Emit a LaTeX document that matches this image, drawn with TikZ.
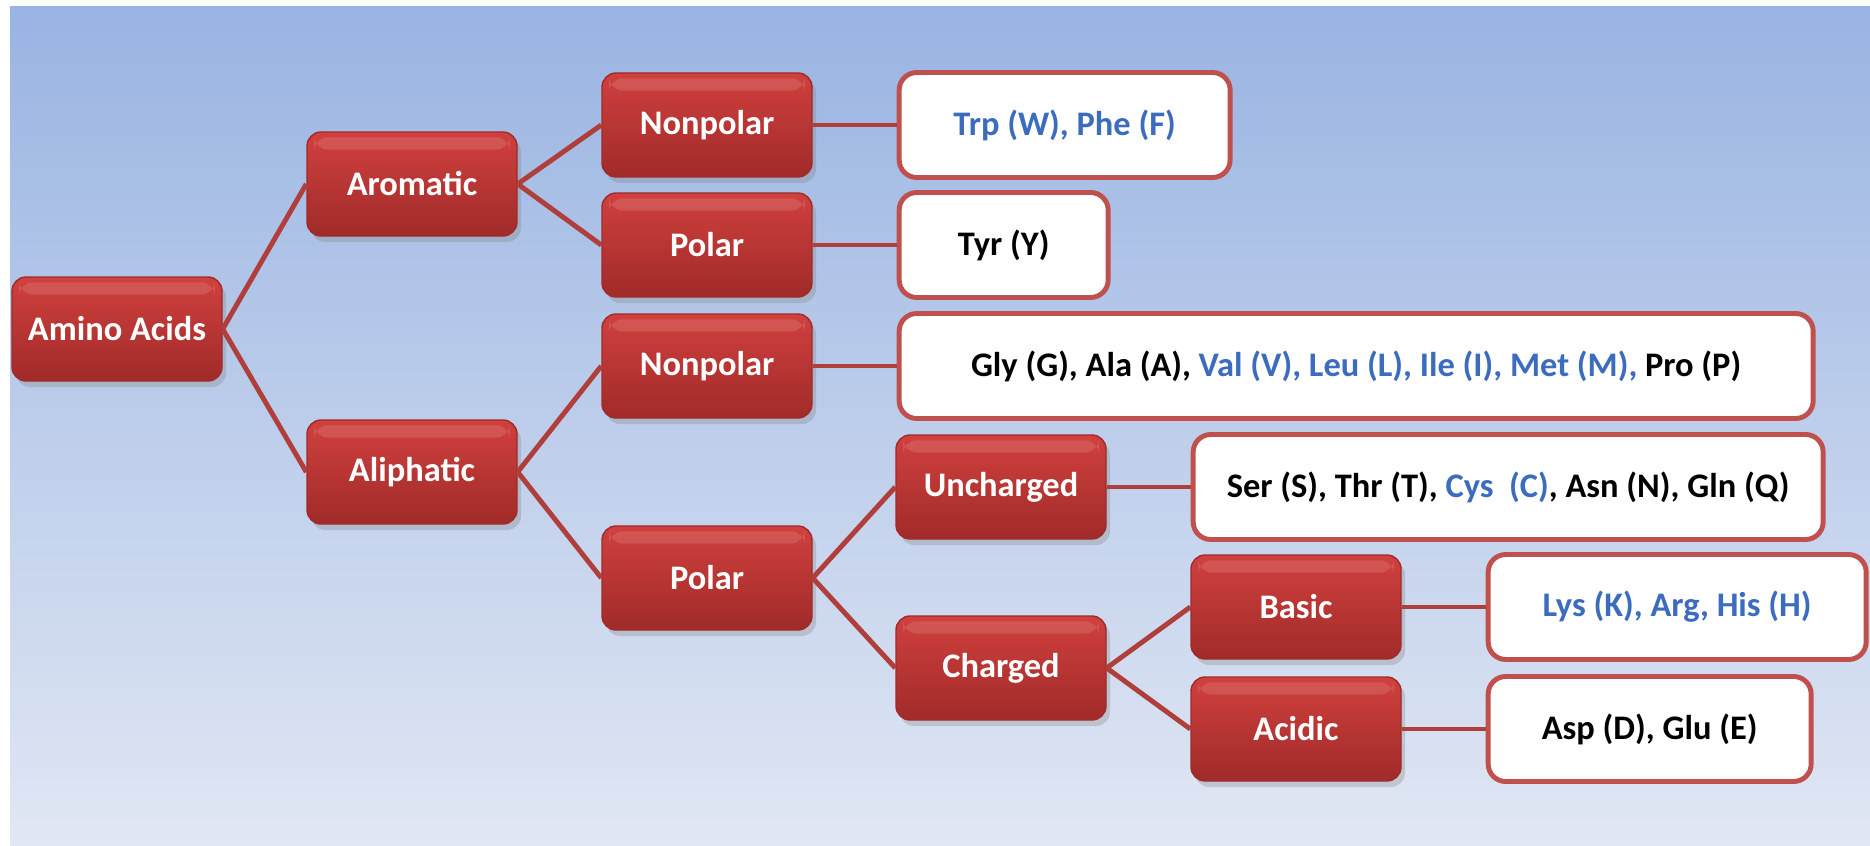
\documentclass[tikz,border=0pt]{standalone}
\usepackage{fontspec}
\setmainfont{Carlito}
\usepackage{xcolor}
\usepackage{tikz}
\usetikzlibrary{positioning, shadows}

\definecolor{bgtop}{RGB}{153,180,226}
\definecolor{bgbottom}{RGB}{225,231,244}
\definecolor{boxtop}{RGB}{208,64,62}
\definecolor{boxbottom}{RGB}{160,43,41}
\definecolor{linkred}{RGB}{176,62,58}
\definecolor{framered}{RGB}{192,80,77}
\definecolor{aablue}{RGB}{60,108,190}

\begin{document}
\begin{tikzpicture}[
    font=\fontsize{9.8}{11.5}\selectfont\bfseries,
    node distance=0.84cm,
    catbox/.style={rectangle, rounded corners=4pt, top color=boxtop, bottom color=boxbottom,
                 draw=boxbottom, thin, text=white,
                 minimum width=2.1cm, minimum height=1.04cm,
                 drop shadow={opacity=0.3, shadow xshift=0.4mm, shadow yshift=-0.6mm},
                 path picture={\fill[white, opacity=0.12]
                   ([xshift=2pt, yshift=-1.5pt]path picture bounding box.north west) rectangle
                   ([xshift=-2pt, yshift=-5pt]path picture bounding box.north east);}},
    listbox/.style={rectangle, rounded corners=5pt, draw=framered, line width=1.4pt,
                 fill=white, minimum height=1.05cm, align=center},
    link/.style={draw=linkred, line width=1.4pt}
]
\fill[white] (0,0) rectangle (18.70,8.45);
\shade[top color=bgtop, bottom color=bgbottom] (0.10,0) rectangle (18.70,8.38);
\useasboundingbox (0,0) rectangle (18.70,8.45);

\node[catbox] (root) at (1.17,5.16) {Amino Acids};
\node[catbox] (aromatic) at (4.12,6.61) {Aromatic};
\node[catbox] (aliphatic) at (4.12,3.73) {Aliphatic};
\node[catbox] (nonpolarA) at (7.07,7.20) {Nonpolar};
\node[catbox] (polarA) at (7.07,6.00) {Polar};
\node[catbox] (nonpolarB) at (7.07,4.79) {Nonpolar};
\node[catbox] (polarB) at (7.07,2.67) {Polar};
\node[catbox] (uncharged) at (10.01,3.58) {Uncharged};
\node[catbox] (charged) at (10.01,1.77) {Charged};
\node[catbox] (basic) at (12.96,2.38) {Basic};
\node[catbox] (acidic) at (12.96,1.16) {Acidic};

\node[listbox, minimum width=3.31cm, right=of nonpolarA] (listNPA) {\textcolor{aablue}{Trp (W), Phe (F)}};
\node[listbox, minimum width=2.09cm, right=of polarA] (listPA) {Tyr (Y)};
\node[listbox, minimum width=9.14cm, right=of nonpolarB] (listNPB)
    {Gly (G), Ala (A), \textcolor{aablue}{Val (V), Leu (L), Ile (I), Met (M),} Pro (P)};
\node[listbox, minimum width=6.30cm, right=of uncharged] (listUC)
    {Ser (S), Thr (T), \textcolor{aablue}{Cys~~(C)}, Asn (N), Gln (Q)};
\node[listbox, minimum width=3.78cm, right=of basic] (listBA) {\textcolor{aablue}{Lys (K), Arg, His (H)}};
\node[listbox, minimum width=3.23cm, right=of acidic] (listAC) {Asp (D), Glu (E)};

\draw[link] (root.east) -- (aromatic.west);
\draw[link] (root.east) -- (aliphatic.west);
\draw[link] (aromatic.east) -- (nonpolarA.west);
\draw[link] (aromatic.east) -- (polarA.west);
\draw[link] (aliphatic.east) -- (nonpolarB.west);
\draw[link] (aliphatic.east) -- (polarB.west);
\draw[link] (polarB.east) -- (uncharged.west);
\draw[link] (polarB.east) -- (charged.west);
\draw[link] (charged.east) -- (basic.west);
\draw[link] (charged.east) -- (acidic.west);
\draw[link] (nonpolarA) -- (listNPA);
\draw[link] (polarA) -- (listPA);
\draw[link] (nonpolarB) -- (listNPB);
\draw[link] (uncharged) -- (listUC);
\draw[link] (basic) -- (listBA);
\draw[link] (acidic) -- (listAC);
\end{tikzpicture}
\end{document}
